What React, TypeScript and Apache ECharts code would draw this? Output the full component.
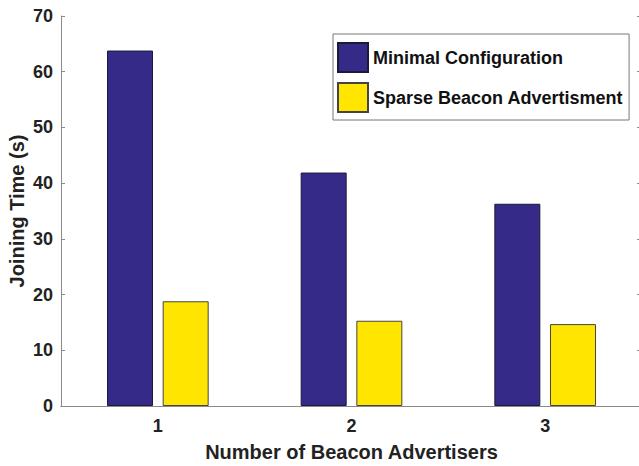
import React, { useEffect, useRef } from "react";
import * as echarts from "echarts";

const categories = ["1", "2", "3"];
const minimalConfig = [63.8, 41.9, 36.3];
const sparseBeacon = [18.8, 15.3, 14.7];
const seriesNames = ["Minimal Configuration", "Sparse Beacon Advertisment"];

const FONT = "'Liberation Sans', Arial, Helvetica, sans-serif";
const AXIS_COLOR = "#8a8a8a";

export default function App() {
  const ref = useRef<HTMLDivElement>(null);
  useEffect(() => {
    if (!ref.current) return;
    const chart = echarts.init(ref.current, undefined, { renderer: "svg" });
    chart.setOption({
      animation: false,
      backgroundColor: "#ffffff",
      textStyle: { fontFamily: FONT },
      grid: {
        left: 61,
        top: 16,
        width: 581,
        height: 390,
        show: false,
        containLabel: false,
        outerBoundsMode: "none",
      },
      legend: {
        orient: "vertical",
        left: 333,
        top: 34,
        padding: [8, 6, 7, 4],
        itemGap: 9,
        itemWidth: 30,
        itemHeight: 29,
        borderColor: "#777777",
        borderWidth: 1,
        backgroundColor: "#ffffff",
        icon: "rect",
        textStyle: { fontFamily: FONT, fontWeight: "bold", fontSize: 18, color: "#111111" },
        data: seriesNames,
      },
      xAxis: [
        {
          type: "category",
          data: categories,
          position: "bottom",
          axisLine: { lineStyle: { color: AXIS_COLOR, width: 1 } },
          axisTick: { inside: true, alignWithLabel: true, length: 4, lineStyle: { color: AXIS_COLOR } },
          axisLabel: { margin: 11, fontSize: 18, fontWeight: "bold", color: "#222222", fontFamily: FONT },
          name: "Number of Beacon Advertisers",
          nameLocation: "middle",
          nameGap: 36,
          nameMoveOverlap: false,
          nameTextStyle: { fontSize: 20, fontWeight: "bold", color: "#222222", fontFamily: FONT },
          splitLine: { show: false },
        },
        {
          type: "category",
          data: categories,
          position: "top",
          axisLine: { lineStyle: { color: AXIS_COLOR, width: 1 } },
          axisTick: { inside: true, alignWithLabel: true, length: 4, lineStyle: { color: AXIS_COLOR } },
          axisLabel: { show: false },
          splitLine: { show: false },
        },
      ],
      yAxis: [
        {
          type: "value",
          min: 0,
          max: 70,
          interval: 10,
          position: "left",
          axisLine: { show: true, lineStyle: { color: AXIS_COLOR, width: 1 } },
          axisTick: { show: true, inside: true, length: 4, lineStyle: { color: AXIS_COLOR } },
          axisLabel: { margin: 8, fontSize: 18, fontWeight: "bold", color: "#222222", fontFamily: FONT },
          splitLine: { show: false },
          name: "Joining Time (s)",
          nameLocation: "middle",
          nameGap: 34,
          nameMoveOverlap: false,
          nameTextStyle: { fontSize: 20, fontWeight: "bold", color: "#222222", fontFamily: FONT },
        },
        {
          type: "value",
          min: 0,
          max: 70,
          interval: 10,
          position: "right",
          axisLine: { show: true, lineStyle: { color: AXIS_COLOR, width: 1 } },
          axisTick: { show: true, inside: true, length: 5, lineStyle: { color: AXIS_COLOR } },
          axisLabel: { show: false },
          splitLine: { show: false },
        },
      ],
      series: [
        {
          name: seriesNames[0],
          type: "bar",
          data: minimalConfig,
          barWidth: 46,
          barGap: "21%",
          itemStyle: { color: "#352A87", borderColor: "#1a1a3a", borderWidth: 1 },
        },
        {
          name: seriesNames[1],
          type: "bar",
          data: sparseBeacon,
          barWidth: 46,
          barGap: "21%",
          itemStyle: { color: "#FFE500", borderColor: "#444444", borderWidth: 1 },
        },
      ],
    });
    return () => chart.dispose();
  }, []);
  return (
    <div
      ref={ref}
      style={{ position: "fixed", left: 0, top: 0, width: 639, height: 466, background: "#fff" }}
    />
  );
}
